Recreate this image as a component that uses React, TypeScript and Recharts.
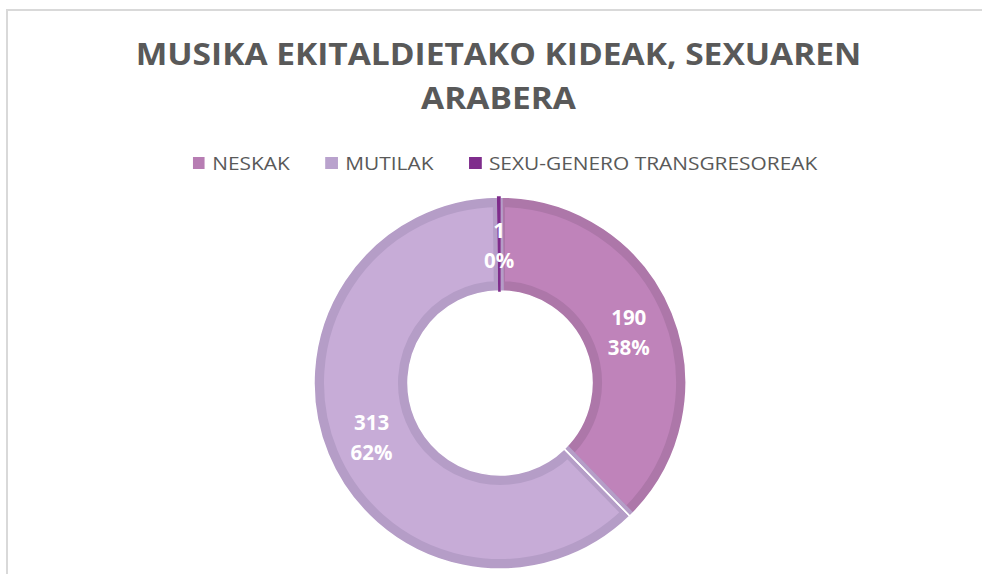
import { Cell, Pie, PieChart } from "recharts";

const categories = ["NESKAK", "MUTILAK", "SEXU-GENERO TRANSGRESOREAK"];
const values = [190, 313, 1];
const titleLines = ["MUSIKA EKITALDIETAKO KIDEAK, SEXUAREN", "ARABERA"];

const fills = ["#BF83BA", "#C7ACD7", "#7F2D8C"];
const borders = ["#AD77A9", "#B59DC7", "#7F2D8C"];
const legendColors = ["#B77DB3", "#B9A2CD", "#7F2D8C"];

const data = categories.map((name, i) => ({ name, value: values[i] }));

const FONT = "'Open Sans', 'DejaVu Sans', sans-serif";
const RAD = Math.PI / 180;
const NO_MARGIN = { top: 0, right: 0, bottom: 0, left: 0 };

function renderLabel(props: any) {
  const { cx, cy, midAngle, innerRadius, outerRadius, value, percent } = props;
  const r = (innerRadius + outerRadius) / 2;
  const x = cx + r * Math.cos(-midAngle * RAD);
  const y = cy + r * Math.sin(-midAngle * RAD);
  return (
    <text
      x={x}
      y={y}
      fill="#fff"
      textAnchor="middle"
      fontFamily={FONT}
      fontSize={20.5}
      fontWeight={700}
    >
      <tspan x={x} dy={-6}>{value}</tspan>
      <tspan x={x} dy={30}>{`${Math.round(percent * 100)}%`}</tspan>
    </text>
  );
}

export default function App() {
  return (
    <div
      style={{
        position: "absolute",
        left: 0,
        top: 0,
        width: 982,
        height: 574,
        overflow: "hidden",
        background: "#fff",
        fontFamily: FONT,
      }}
    >
      <div
        style={{
          position: "absolute",
          left: 6,
          top: 9,
          width: 1000,
          height: 600,
          border: "2px solid #D9D9D9",
        }}
      />
      <div
        style={{
          position: "absolute",
          left: 0,
          top: 32,
          width: 997,
          textAlign: "center",
          color: "#595959",
          fontSize: 30,
          fontWeight: 700,
          lineHeight: "44px",
          transform: "scaleX(1.117)",
          transformOrigin: "498.5px 0",
        }}
      >
        {titleLines.map((t) => (
          <div key={t}>{t}</div>
        ))}
      </div>
      <div
        style={{
          position: "absolute",
          left: 0,
          top: 150,
          width: 1010,
          display: "flex",
          justifyContent: "center",
          gap: 31,
          color: "#595959",
          fontSize: 18,
          lineHeight: "26px",
          transform: "scaleX(1.16)",
          transformOrigin: "505px 0",
        }}
      >
        {categories.map((c, i) => (
          <div key={c} style={{ display: "flex", alignItems: "center", gap: 6.5 }}>
            <span style={{ width: 10.3, height: 12, background: legendColors[i], display: "inline-block" }} />
            <span>{c}</span>
          </div>
        ))}
      </div>
      <div style={{ position: "absolute", left: 0, top: 0 }}>
        <PieChart width={982} height={574} margin={NO_MARGIN}>
          <Pie
            data={data}
            dataKey="value"
            nameKey="name"
            cx={500}
            cy={383}
            innerRadius={97}
            outerRadius={181}
            startAngle={90}
            endAngle={-270}
            isAnimationActive={false}
          >
            {data.map((d, i) => (
              <Cell key={d.name} fill={fills[i]} stroke={borders[i]} strokeWidth={i === 2 ? 1 : 10} />
            ))}
          </Pie>
          <Pie
            data={data}
            dataKey="value"
            nameKey="name"
            cx={500}
            cy={383}
            innerRadius={92}
            outerRadius={186}
            startAngle={90}
            endAngle={-270}
            isAnimationActive={false}
          >
            {data.map((d, i) => (
              <Cell key={d.name} fill="none" stroke={i === 2 ? "none" : "#fff"} strokeWidth={1.5} />
            ))}
          </Pie>
          <Pie
            data={data}
            dataKey="value"
            nameKey="name"
            cx={500}
            cy={383}
            innerRadius={92}
            outerRadius={186}
            startAngle={90}
            endAngle={-270}
            isAnimationActive={false}
            label={renderLabel}
            labelLine={false}
          >
            {data.map((d, i) => (
              <Cell
                key={d.name}
                fill={i === 2 ? fills[i] : "none"}
                stroke={i === 2 ? borders[i] : "none"}
                strokeWidth={1.5}
              />
            ))}
          </Pie>
        </PieChart>
      </div>
    </div>
  );
}
